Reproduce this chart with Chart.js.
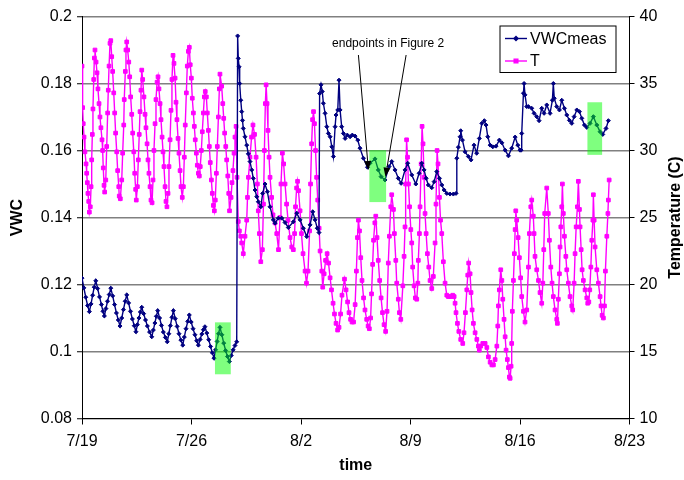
<!DOCTYPE html>
<html lang="en">
<head>
<meta charset="UTF-8">
<title>VWC and temperature</title>
<script src="https://cdn.jsdelivr.net/npm/chart.js"></script>
<style>
  body { margin: 0; background: #fff; }
  #wrap { width: 684px; height: 480px; }
</style>
</head>
<body>
<div id="wrap"><canvas id="chart" width="684" height="480"></canvas></div>
<script>
// x = days since 7/19
const dateLabels = ['7/19', '7/26', '8/2', '8/9', '8/16', '8/23'];
const seriesNames = ['VWCmeas', 'T'];

// [day, VWC]
const vwcReadings = [
  [0.00,0.1219],[0.12,0.1190],[0.24,0.1162],[0.36,0.1137],[0.47,0.1119],[0.58,0.1142],[0.68,0.1168],[0.78,0.1192],[0.88,0.1211],
  [1.00,0.1188],[1.12,0.1163],[1.24,0.1140],[1.34,0.1120],[1.43,0.1106],[1.53,0.1128],[1.63,0.1150],[1.74,0.1170],[1.84,0.1189],
  [1.96,0.1166],[2.08,0.1140],[2.20,0.1115],[2.32,0.1094],[2.43,0.1076],[2.54,0.1100],[2.65,0.1125],[2.76,0.1150],[2.86,0.1169],
  [2.98,0.1145],[3.10,0.1120],[3.22,0.1097],[3.34,0.1077],[3.45,0.1059],[3.54,0.1080],[3.64,0.1100],[3.73,0.1118],[3.82,0.1132],
  [3.94,0.1113],[4.06,0.1094],[4.18,0.1076],[4.32,0.1058],[4.46,0.1044],[4.56,0.1064],[4.66,0.1085],[4.75,0.1105],[4.84,0.1122],
  [4.96,0.1100],[5.08,0.1078],[5.20,0.1058],[5.33,0.1042],[5.45,0.1029],[5.55,0.1053],[5.65,0.1077],[5.75,0.1102],[5.84,0.1122],
  [5.96,0.1098],[6.08,0.1075],[6.20,0.1053],[6.32,0.1034],[6.44,0.1019],[6.54,0.1043],[6.65,0.1068],[6.76,0.1090],[6.86,0.1109],
  [6.98,0.1088],[7.10,0.1068],[7.22,0.1050],[7.33,0.1032],[7.44,0.1019],[7.55,0.1036],[7.66,0.1052],[7.76,0.1065],[7.86,0.1074],
  [7.98,0.1055],[8.10,0.1035],[8.22,0.1015],[8.33,0.0996],[8.44,0.0980],[8.54,0.1005],[8.64,0.1030],[8.73,0.1053],[8.82,0.1072],
  [8.94,0.1050],[9.06,0.1025],[9.18,0.1003],[9.30,0.0985],[9.42,0.0970],[9.54,0.0988],[9.66,0.1005],[9.78,0.1018],[9.89,0.1029],
  [9.95,0.1942],[9.99,0.1875],[10.04,0.1850],[10.08,0.1800],[10.15,0.1750],[10.21,0.1716],[10.26,0.1690],[10.31,0.1666],
  [10.42,0.1641],[10.53,0.1616],[10.63,0.1590],[10.74,0.1567],[10.85,0.1542],[10.95,0.1517],[11.06,0.1482],[11.17,0.1462],
  [11.27,0.1447],[11.43,0.1432],[11.55,0.1472],[11.70,0.1500],[11.85,0.1477],[12.02,0.1432],[12.23,0.1393],[12.34,0.1383],
  [12.55,0.1398],[12.77,0.1398],[12.98,0.1385],[13.19,0.1370],[13.51,0.1387],[13.73,0.1413],[13.94,0.1393],[14.15,0.1368],
  [14.37,0.1343],[14.58,0.1378],[14.75,0.1417],[14.90,0.1393],[15.04,0.1368],[15.15,0.1355],
  [15.19,0.1770],[15.28,0.1796],[15.36,0.1776],[15.43,0.1741],[15.54,0.1711],[15.65,0.1671],[15.75,0.1651],[15.86,0.1641],
  [15.97,0.1611],[16.07,0.1582],[16.18,0.1671],[16.24,0.1706],[16.35,0.1721],[16.43,0.1810],[16.50,0.1721],[16.60,0.1671],
  [16.71,0.1651],[16.82,0.1636],[16.96,0.1646],[17.14,0.1641],[17.28,0.1646],[17.46,0.1643],[17.63,0.1631],[17.77,0.1607],
  [17.99,0.1577],[18.25,0.1550],[18.41,0.1562],[18.73,0.1575],[18.94,0.1542],[19.12,0.1522],[19.37,0.1512],[19.63,0.1552],
  [19.80,0.1567],[20.01,0.1542],[20.22,0.1517],[20.40,0.1502],[20.65,0.1542],[20.82,0.1562],[21.08,0.1527],[21.34,0.1500],
  [21.55,0.1532],[21.72,0.1562],[21.87,0.1542],[22.00,0.1517],[22.14,0.1497],[22.36,0.1489],[22.51,0.1507],[22.68,0.1537],
  [22.85,0.1517],[23.00,0.1497],[23.15,0.1482],[23.32,0.1472],[23.53,0.1470],[23.74,0.1470],[23.91,0.1472],
  [23.96,0.1577],[24.06,0.1610],[24.17,0.1641],[24.21,0.1659],[24.32,0.1631],[24.49,0.1596],[24.70,0.1582],[24.87,0.1572],
  [25.06,0.1616],[25.23,0.1592],[25.40,0.1636],[25.56,0.1681],[25.72,0.1689],[25.83,0.1676],[25.94,0.1641],[26.09,0.1616],
  [26.26,0.1611],[26.47,0.1613],[26.68,0.1631],[26.84,0.1623],[27.05,0.1601],[27.26,0.1584],[27.47,0.1607],[27.69,0.1640],
  [27.86,0.1616],[28.00,0.1601],[28.07,0.1601],
  [28.11,0.1651],[28.22,0.1771],[28.26,0.1800],[28.32,0.1766],[28.43,0.1731],[28.54,0.1731],[28.75,0.1726],[28.90,0.1711],
  [29.07,0.1701],[29.22,0.1689],[29.39,0.1726],[29.54,0.1711],[29.71,0.1736],[29.92,0.1711],[30.07,0.1750],[30.13,0.1800],
  [30.19,0.1756],[30.35,0.1731],[30.52,0.1721],[30.67,0.1750],[30.84,0.1726],[30.99,0.1706],[31.16,0.1690],[31.31,0.1681],
  [31.46,0.1701],[31.63,0.1721],[31.80,0.1716],[31.95,0.1696],[32.12,0.1676],[32.27,0.1669],[32.48,0.1681],[32.69,0.1701],
  [32.91,0.1676],[33.12,0.1656],[33.29,0.1648],[33.50,0.1666],[33.65,0.1689]
];

// [day, temperature C]
const tempReadings = [
  [0.00,36.3],[0.04,33.2],[0.08,32.0],[0.13,31.0],[0.19,29.9],[0.26,29.0],[0.30,28.3],[0.34,27.6],[0.38,26.8],[0.43,26.2],[0.47,25.4],
  [0.53,25.8],[0.58,27.3],[0.62,29.3],[0.66,31.2],[0.70,33.1],[0.75,35.3],[0.79,36.9],[0.83,37.5],[0.90,36.6],[0.96,35.8],
  [1.02,34.6],[1.09,33.5],[1.15,32.5],[1.21,31.7],[1.28,30.8],[1.32,30.0],[1.36,28.7],[1.41,27.4],[1.45,26.9],
  [1.52,27.8],[1.58,30.3],[1.64,32.8],[1.68,34.5],[1.73,36.3],[1.79,38.0],[1.84,38.2],[1.90,37.0],[1.96,35.9],[2.03,34.3],
  [2.09,32.8],[2.15,31.3],[2.22,29.9],[2.28,28.5],[2.35,27.3],[2.38,26.6],[2.45,26.4],
  [2.54,27.8],[2.60,29.8],[2.67,31.9],[2.70,33.8],[2.77,35.9],[2.81,37.5],[2.86,38.1],[2.92,37.5],[2.99,36.6],[3.05,35.5],
  [3.11,34.0],[3.18,32.7],[3.24,31.3],[3.31,29.9],[3.37,28.3],[3.43,27.1],[3.47,26.3],
  [3.54,27.3],[3.60,29.3],[3.66,31.2],[3.71,32.9],[3.77,34.5],[3.82,36.0],[3.88,35.3],[3.96,34.0],[4.03,32.7],[4.09,31.7],
  [4.16,30.5],[4.22,29.3],[4.28,28.3],[4.35,27.3],[4.41,26.3],[4.48,26.1],
  [4.54,27.8],[4.60,30.0],[4.67,32.0],[4.73,33.8],[4.80,35.1],[4.86,35.5],[4.92,34.6],[4.99,33.5],[5.05,32.3],[5.12,31.0],
  [5.18,29.9],[5.24,28.8],[5.31,27.3],[5.37,26.2],[5.43,25.8],
  [5.50,26.8],[5.56,28.8],[5.63,30.8],[5.69,33.0],[5.75,35.3],[5.82,37.1],[5.88,36.5],[5.95,35.4],[6.01,33.6],[6.07,32.3],
  [6.14,30.9],[6.20,29.8],[6.27,28.5],[6.33,27.3],[6.41,26.5],
  [6.48,27.3],[6.54,29.5],[6.60,31.9],[6.67,34.3],[6.73,36.3],[6.80,37.4],[6.86,37.7],[6.92,36.4],[6.99,35.4],[7.05,33.9],
  [7.12,32.8],[7.18,31.8],[7.24,30.8],[7.31,29.8],[7.37,28.9],[7.44,28.3],[7.50,28.1],
  [7.56,28.8],[7.63,30.0],[7.69,31.4],[7.76,32.8],[7.82,34.0],[7.88,34.4],[7.95,34.0],[8.01,32.8],[8.08,31.5],[8.14,30.3],
  [8.20,29.1],[8.27,27.8],[8.33,26.8],[8.40,25.9],[8.46,25.5],
  [8.52,26.3],[8.59,28.3],[8.65,30.3],[8.72,32.5],[8.78,34.6],[8.82,35.7],[8.93,34.8],[9.00,33.5],[9.06,32.4],[9.12,31.3],
  [9.19,30.3],[9.25,29.3],[9.32,28.1],[9.38,26.8],[9.43,25.5],
  [9.53,26.5],[9.59,27.6],[9.65,28.5],[9.72,29.8],[9.78,31.0],[9.85,31.8],[9.91,28.0],[9.99,24.7],[10.06,24.0],[10.15,23.6],
  [10.21,23.1],[10.31,22.3],
  [10.42,23.6],[10.53,24.8],[10.58,26.5],[10.64,28.0],[10.74,29.5],[10.84,31.0],[10.93,31.9],[11.03,31.2],[11.13,29.5],
  [11.21,27.5],[11.27,25.5],[11.34,23.8],[11.43,21.7],
  [11.53,22.6],[11.60,26.0],[11.66,30.0],[11.72,33.5],[11.77,34.9],[11.83,33.5],[11.89,31.5],[11.96,29.5],[12.02,28.0],
  [12.12,26.5],[12.21,25.2],[12.34,24.6],[12.45,23.8],[12.56,22.6],
  [12.66,25.0],[12.72,27.5],[12.81,29.8],[12.89,29.0],[12.98,27.5],[13.08,26.0],[13.17,24.8],[13.30,23.5],[13.41,22.8],[13.51,22.6],
  [13.59,23.8],[13.65,25.8],[13.72,27.2],[13.78,27.7],[13.84,27.0],[13.94,25.5],[14.03,23.8],[14.13,22.3],[14.26,21.0],[14.35,20.1],
  [14.45,21.0],[14.55,24.0],[14.61,27.5],[14.68,30.5],[14.74,32.3],[14.80,32.9],[14.86,32.0],[14.93,30.0],[15.00,28.0],
  [15.07,26.3],[15.16,24.2],[15.22,22.5],[15.33,21.0],[15.39,19.8],
  [15.48,20.8],[15.57,21.8],[15.67,22.3],[15.76,21.6],[15.86,20.5],[15.95,19.6],[16.05,18.6],[16.14,17.8],[16.24,17.1],[16.34,16.6],
  [16.43,16.8],[16.53,17.8],[16.62,19.2],[16.78,20.4],[16.88,19.6],[16.98,18.7],[17.07,17.9],[17.17,17.4],[17.26,17.2],[17.36,17.2],
  [17.46,18.5],[17.54,21.0],[17.61,23.5],[17.67,24.8],[17.74,24.0],[17.82,22.0],[17.90,20.3],[18.00,19.0],[18.09,18.1],
  [18.20,17.4],[18.29,16.9],[18.37,16.7],
  [18.45,17.5],[18.51,19.3],[18.58,21.5],[18.64,23.3],[18.72,24.6],[18.78,25.1],[18.86,23.5],[18.94,21.8],[19.03,20.3],
  [19.12,19.0],[19.21,17.9],[19.31,17.0],[19.41,16.5],
  [19.50,18.0],[19.58,21.6],[19.65,23.6],[19.74,25.8],[19.80,26.7],[19.91,25.6],[19.97,23.8],[20.06,21.8],[20.12,20.1],
  [20.22,18.9],[20.29,17.9],[20.38,17.4],
  [20.51,19.9],[20.59,22.1],[20.65,24.3],[20.69,27.5],[20.75,30.8],[20.81,29.5],[20.87,27.5],[20.94,25.8],[21.02,24.1],
  [21.08,23.1],[21.14,21.3],[21.23,19.9],[21.31,19.0],[21.40,18.9],
  [21.47,20.1],[21.50,21.8],[21.57,23.8],[21.61,25.8],[21.68,29.0],[21.74,31.8],[21.80,30.5],[21.87,28.0],[21.93,25.3],
  [22.00,23.8],[22.08,22.3],[22.17,21.3],[22.25,20.3],[22.36,19.7],
  [22.46,20.6],[22.57,23.1],[22.63,26.0],[22.70,30.0],[22.76,29.0],[22.85,26.5],[22.92,24.8],[23.00,23.8],[23.10,21.7],
  [23.21,20.1],[23.32,19.2],[23.42,19.1],[23.57,19.1],[23.70,19.2],[23.79,19.1],[23.85,18.6],[23.91,17.9],[24.00,17.1],
  [24.09,16.5],[24.21,15.9],[24.34,15.6],
  [24.42,16.4],[24.51,17.9],[24.60,19.6],[24.66,20.7],[24.72,21.6],[24.81,20.8],[24.87,19.4],[24.94,18.1],[25.02,17.1],
  [25.13,16.4],[25.24,15.9],[25.34,15.4],[25.40,15.1],[25.49,15.4],[25.62,15.6],[25.77,15.6],[25.88,15.3],[25.98,14.6],
  [26.09,14.2],[26.20,14.0],[26.30,14.0],
  [26.41,14.4],[26.52,15.4],[26.58,16.9],[26.62,18.4],[26.68,19.6],[26.77,21.1],[26.84,20.3],[26.90,18.9],[26.98,17.4],
  [27.05,16.1],[27.11,15.1],[27.19,14.4],[27.26,13.8],[27.32,13.1],[27.37,13.0],
  [27.43,13.9],[27.47,15.6],[27.51,18.0],[27.58,20.3],[27.64,22.3],[27.69,24.1],[27.73,25.5],[27.79,24.8],[27.88,23.5],
  [27.96,22.0],[28.04,20.5],[28.11,19.1],[28.22,18.0],[28.32,17.2],
  [28.43,18.1],[28.54,21.3],[28.60,23.8],[28.69,25.8],[28.75,26.3],[28.85,25.1],[28.90,23.8],[28.96,22.1],[29.07,21.1],
  [29.18,20.3],[29.28,19.4],[29.39,18.6],
  [29.46,20.1],[29.52,22.6],[29.58,25.3],[29.71,27.2],[29.81,25.3],[29.88,23.3],[29.97,21.3],[30.05,20.1],[30.13,19.1],
  [30.24,18.1],[30.35,17.4],[30.39,17.1],
  [30.45,18.9],[30.52,20.8],[30.56,22.8],[30.61,24.3],[30.67,25.8],[30.71,27.5],[30.77,25.3],[30.84,23.6],[30.93,22.1],
  [30.99,21.1],[31.09,20.1],[31.20,19.1],[31.31,18.4],[31.37,18.1],
  [31.46,20.1],[31.52,22.3],[31.59,24.3],[31.67,25.8],[31.73,27.7],[31.80,25.6],[31.84,24.3],[31.91,22.6],[31.97,21.1],
  [32.05,20.3],[32.16,19.6],[32.27,19.0],[32.33,18.6],[32.40,18.7],
  [32.46,19.6],[32.53,21.3],[32.59,23.3],[32.66,24.8],[32.69,26.7],[32.74,24.8],[32.80,22.8],[32.91,21.1],[33.01,20.1],
  [33.12,19.1],[33.18,18.4],[33.25,17.7],[33.33,17.5],
  [33.40,18.4],[33.46,21.0],[33.55,23.6],[33.62,25.3],[33.65,26.3],[33.70,27.8]
];

// green boxes marking the endpoints (day range, VWC range)
const highlightBoxes = [
  { from: 8.50, to: 9.51, top: 0.1087, bottom: 0.0932 },
  { from: 18.37, to: 19.44, top: 0.1601, bottom: 0.1446 },
  { from: 32.31, to: 33.25, top: 0.1744, bottom: 0.1587 }
];

const noteText = 'endpoints in Figure 2';
const noteAt = { day: 19.57, vwc: 0.1918 };
const noteArrows = [
  { fromDay: 17.67, fromVwc: 0.1885, toDay: 18.31, toVwc: 0.1542 },
  { fromDay: 20.72, fromVwc: 0.1885, toDay: 19.40, toVwc: 0.1522 }
];

const FONT = 'Liberation Sans, Arial, Helvetica, sans-serif';
const NAVY = '#000080';
const PINK = '#FF00FF';

Chart.defaults.font.family = FONT;
Chart.defaults.font.size = 16;
Chart.defaults.color = '#000';

function drawArrow(ctx, x0, y0, x1, y1) {
    const ang = Math.atan2(y1 - y0, x1 - x0);
    const len = 9, half = 3.5;
    const bx = x1 - len * Math.cos(ang), by = y1 - len * Math.sin(ang);
    ctx.beginPath();
    ctx.moveTo(x0, y0);
    ctx.lineTo(bx, by);
    ctx.stroke();
    ctx.beginPath();
    ctx.moveTo(x1, y1);
    ctx.lineTo(bx + half * Math.sin(ang), by - half * Math.cos(ang));
    ctx.lineTo(bx - half * Math.sin(ang), by + half * Math.cos(ang));
    ctx.closePath();
    ctx.fill();
}

const extrasPlugin = {
    id: 'extras',
    afterDatasetsDraw(chart) {
        const { ctx, scales: { x, y } } = chart;
        ctx.save();
        ctx.fillStyle = 'rgba(0, 255, 0, 0.5)';
        highlightBoxes.forEach(b => {
            const x0 = x.getPixelForValue(b.from), x1 = x.getPixelForValue(b.to);
            const y0 = y.getPixelForValue(b.top), y1 = y.getPixelForValue(b.bottom);
            ctx.fillRect(x0, y0, x1 - x0, y1 - y0);
        });
        ctx.restore();
    },
    afterDraw(chart) {
        const { ctx, chartArea, scales: { x, y } } = chart;
        ctx.save();

        // note + arrows
        ctx.fillStyle = '#000';
        ctx.strokeStyle = '#000';
        ctx.lineWidth = 1;
        ctx.font = '12px ' + FONT;
        ctx.textAlign = 'center';
        ctx.textBaseline = 'middle';
        ctx.fillText(noteText, x.getPixelForValue(noteAt.day), y.getPixelForValue(noteAt.vwc));
        noteArrows.forEach(a => {
            drawArrow(ctx,
                x.getPixelForValue(a.fromDay), y.getPixelForValue(a.fromVwc),
                x.getPixelForValue(a.toDay), y.getPixelForValue(a.toVwc));
        });

        // legend box
        const lx = chartArea.right - 129.5, ly = chartArea.top + 9.5;
        ctx.fillStyle = '#fff';
        ctx.fillRect(lx, ly, 116, 46.5);
        ctx.strokeStyle = '#000';
        ctx.strokeRect(lx, ly, 116, 46.5);
        chart.data.datasets.forEach((ds, i) => {
            const ry = ly + 12.5 + i * 22.5;
            ctx.strokeStyle = ds.borderColor;
            ctx.lineWidth = ds.borderWidth;
            ctx.beginPath();
            ctx.moveTo(lx + 5, ry);
            ctx.lineTo(lx + 27, ry);
            ctx.stroke();
            ctx.fillStyle = ds.borderColor;
            Chart.helpers.drawPoint(ctx, {
                pointStyle: ds.pointStyle, radius: ds.pointRadius, rotation: 0, borderWidth: 1
            }, lx + 16, ry);
            ctx.fillStyle = '#000';
            ctx.font = '16px ' + FONT;
            ctx.textAlign = 'left';
            ctx.fillText(ds.label, lx + 30, ry + 1);
        });

        // right axis title, reading bottom to top
        ctx.translate(676, (chartArea.top + chartArea.bottom) / 2);
        ctx.rotate(-Math.PI / 2);
        ctx.fillStyle = '#000';
        ctx.font = 'bold 16px ' + FONT;
        ctx.textAlign = 'center';
        ctx.textBaseline = 'middle';
        ctx.fillText('Temperature (C)', 0, 0);
        ctx.restore();
    }
};

new Chart(document.getElementById('chart'), {
    type: 'line',
    data: {
        datasets: [{
            label: seriesNames[0],
            data: vwcReadings.map(([d, v]) => ({ x: d, y: v })),
            yAxisID: 'y',
            borderColor: NAVY,
            backgroundColor: NAVY,
            borderWidth: 1.4,
            pointStyle: 'rectRot',
            pointRadius: 2,
            pointBorderWidth: 1,
            tension: 0
        }, {
            label: seriesNames[1],
            data: tempReadings.map(([d, t]) => ({ x: d, y: t })),
            yAxisID: 'y2',
            borderColor: PINK,
            backgroundColor: PINK,
            borderWidth: 1.4,
            pointStyle: 'rect',
            pointRadius: 2.6,
            pointBorderWidth: 1,
            tension: 0
        }]
    },
    options: {
        responsive: false,
        animation: false,
        layout: { padding: { top: 16.5, left: 0, right: 0, bottom: 0 } },
        plugins: { legend: { display: false }, tooltip: { enabled: false } },
        scales: {
            x: {
                type: 'linear',
                position: 'bottom',
                min: 0,
                max: 35,
                afterFit: s => { s.height = 61.5; },
                ticks: {
                    stepSize: 7,
                    padding: 7,
                    maxRotation: 0,
                    autoSkip: false,
                    callback: v => dateLabels[Math.round(v / 7)]
                },
                grid: { drawOnChartArea: false, tickLength: 6, tickColor: '#000' },
                border: { color: '#000', width: 1 },
                title: { display: true, text: 'time', font: { weight: 'bold', size: 16 }, padding: { bottom: 5 } }
            },
            y: {
                position: 'left',
                min: 0.08,
                max: 0.2,
                afterFit: s => { s.width = 82; },
                ticks: {
                    stepSize: 0.02,
                    padding: 5,
                    callback: v => Number(v.toFixed(2)).toString()
                },
                grid: { color: '#808080', lineWidth: 1.5, tickLength: 5, tickColor: '#000', tickWidth: 1 },
                border: { color: '#000', width: 1 },
                title: { display: true, text: 'VWC', font: { weight: 'bold', size: 16 }, padding: { top: 8 } }
            },
            y2: {
                position: 'right',
                min: 10,
                max: 40,
                afterFit: s => { s.width = 54.5; },
                ticks: { stepSize: 5, padding: 5 },
                grid: { drawOnChartArea: false, tickLength: 5, tickColor: '#000' },
                border: { color: '#000', width: 1 }
            }
        }
    },
    plugins: [extrasPlugin]
});
</script>
</body>
</html>
